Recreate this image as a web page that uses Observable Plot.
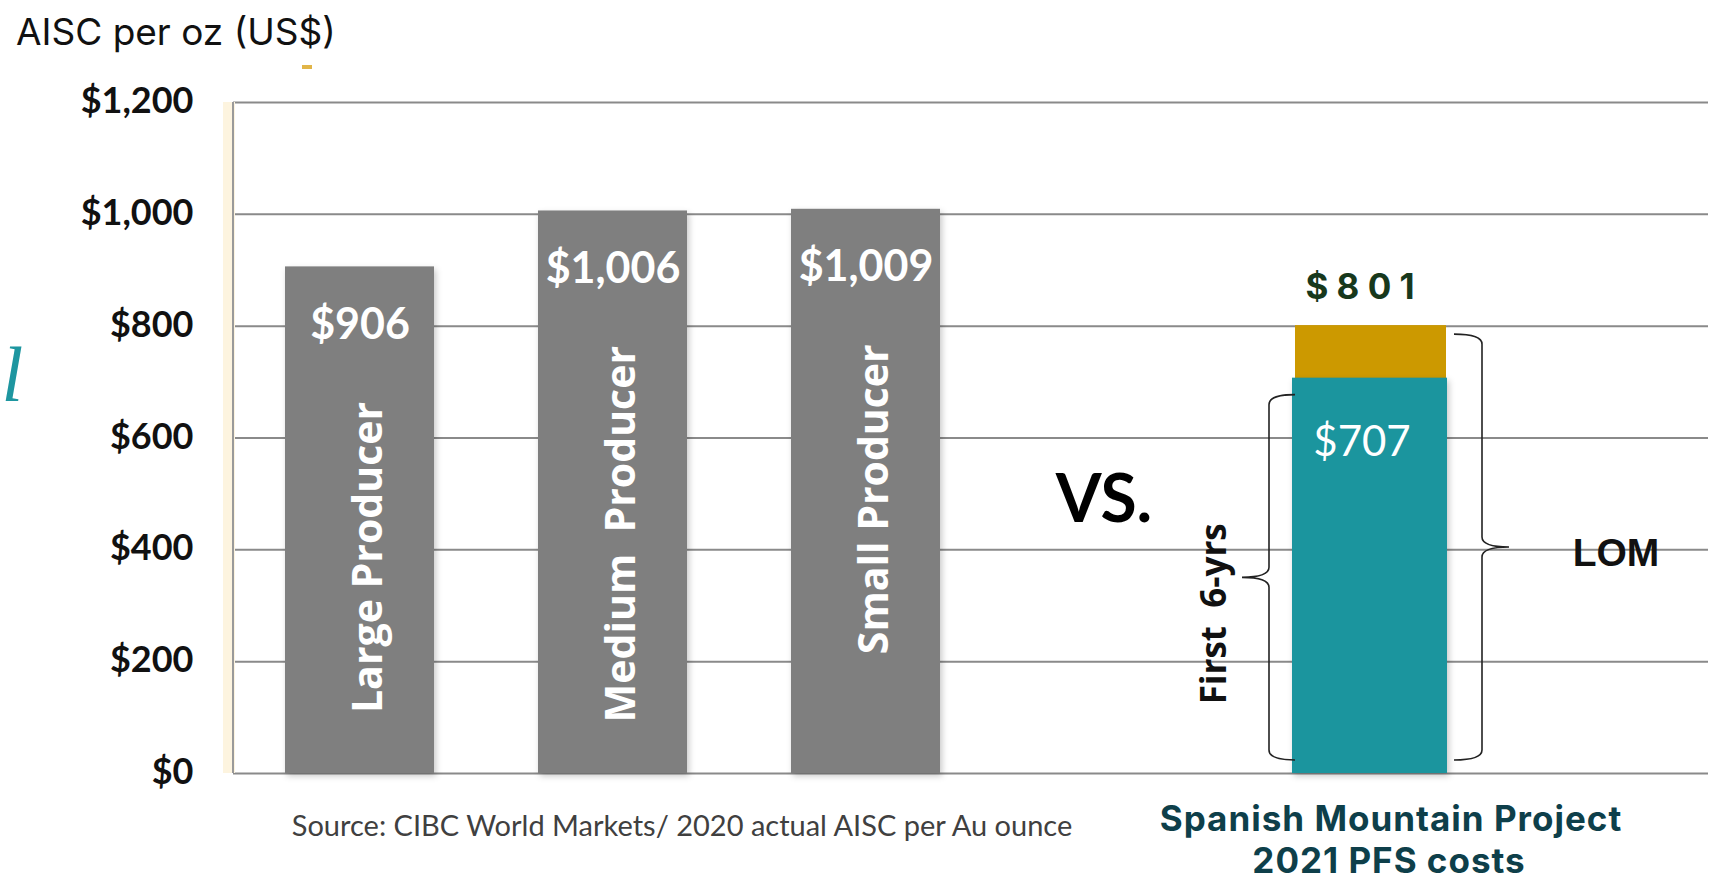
<!DOCTYPE html>
<html><head><meta charset="utf-8">
<script src="https://cdn.jsdelivr.net/npm/d3@7"></script>
<script src="https://cdn.jsdelivr.net/npm/@observablehq/plot@0.6"></script>
<style>
body{margin:0;background:#fff;overflow:hidden;position:relative}
#title{height:70px;box-sizing:border-box;padding:10px 0 0 16px;font:37px Inter, sans-serif;line-height:44px;color:#111}
#dash{position:absolute;left:302px;top:65px;width:10px;height:4px;background:#d9a21a;opacity:0.8}
</style></head><body>
<div id="title">AISC per oz (US$)</div>
<div id="dash"></div>
<div id="chart"></div>
<script>
const categories = ["Large Producer", "Medium  Producer", "Small Producer"];
const aisc = [906, 1006, 1009];
const gapLabel = "VS.";
const projectKey = "Spanish Mountain";
const projectLabel = ["Spanish Mountain Project", "2021 PFS costs"];
const first6Yrs = 707;
const lifeOfMine = 801;
const bracketLabels = ["First  6-yrs", "LOM"];
const yTicks = [0, 200, 400, 600, 800, 1000, 1200];
const sourceNote = "Source: CIBC World Markets/ 2020 actual AISC per Au ounce";

const fmt = d => "$" + d3.format(",")(d);
const producers = categories.map((c, i) => ({cat: c, value: aisc[i]}));
const project = [{cat: projectKey, lo: first6Yrs, hi: lifeOfMine}];
const xDomain = [...categories, gapLabel, projectKey];

function axisLine(index, scales, values, dim) {
  const g = d3.create("svg:g");
  g.append("line").attr("x1", dim.marginLeft - 4).attr("x2", dim.marginLeft - 4)
    .attr("y1", dim.marginTop).attr("y2", dim.height - dim.marginBottom)
    .attr("stroke", "#fdf4df").attr("stroke-width", 12);
  g.append("line").attr("x1", dim.marginLeft).attr("x2", dim.marginLeft)
    .attr("y1", dim.marginTop).attr("y2", dim.height - dim.marginBottom)
    .attr("stroke", "#9a9a9a").attr("stroke-width", 2);
  return g.node();
}

function brace(x, yTop, yBot, dir, h, t, r) {
  const yMid = (yTop + yBot) / 2;
  return `M${x - dir * h},${yTop} Q${x},${yTop} ${x},${yTop + r} L${x},${yMid - r} Q${x},${yMid} ${x + dir * t},${yMid} Q${x},${yMid} ${x},${yMid + r} L${x},${yBot - r} Q${x},${yBot} ${x - dir * h},${yBot}`;
}

function braces(index, scales, values, dim) {
  const x = scales.x, y = scales.y;
  const bw = typeof x.bandwidth === "function" ? x.bandwidth() : 150;
  const left = x(projectKey), right = left + bw;
  const g = d3.create("svg:g").attr("fill", "none").attr("stroke", "#222").attr("stroke-width", 1.6);
  g.append("path").attr("d", brace(left - 28, y(first6Yrs) + 17, y(0) - 13, -1, 26, 27, 10));
  g.append("path").attr("d", brace(right + 36, y(lifeOfMine) + 9, y(0) - 13, 1, 28, 27, 10));
  return g.node();
}

const projFont = {fontSize: 35, fontWeight: "bold", fill: "#0e3f4a", fontFamily: "Inter, sans-serif", lineAnchor: "middle"};
const shadow = "drop-shadow(2px 3px 3px rgba(0,0,0,0.22))";

const chart = Plot.plot({
  width: 1711,
  height: 810,
  marginTop: 32,
  marginBottom: 107,
  marginLeft: 233,
  marginRight: 3,
  style: {fontFamily: "Lato, sans-serif", background: "#fff", overflow: "visible"},
  x: {domain: xDomain, range: [181, 1550], padding: 0.41, axis: null},
  y: {domain: [0, 1200]},
  marks: [
    Plot.gridY(yTicks, {stroke: "#8a8a8a", strokeOpacity: 1, strokeWidth: 2}),
    axisLine,
    Plot.axisY(yTicks, {tickFormat: fmt, tickSize: 0, tickPadding: 40, fontSize: 36, fontWeight: "bold", fill: "#111", label: null, dy: -1}),
    Plot.barY(producers, {x: "cat", y: "value", fill: "#7f7f7f", className: "bars"}),
    Plot.text(producers, {x: "cat", y: "value", text: d => fmt(d.value), dy: 58, fill: "#fff", fontSize: 43, fontWeight: "bold", lineAnchor: "middle"}),
    Plot.text(producers, {x: "cat", y: "value", text: "cat", rotate: -90, textAnchor: "end", lineAnchor: "middle", dx: 9, dy: 135, fill: "#fff", fontSize: 41, fontWeight: "bold", fontFamily: "'Open Sans', sans-serif"}),
    Plot.text([gapLabel], {x: d => d, text: d => d, frameAnchor: "middle", dx: -15, dy: 63, fontSize: 66, fontWeight: "bold", fill: "#000"}),
    Plot.barY(project, {x: "cat", y1: 0, y2: "hi", fill: "#cc9900", insetLeft: -2, insetRight: 0}),
    Plot.barY(project, {x: "cat", y1: 0, y2: "lo", fill: "#1b959e", insetLeft: -5, insetRight: -1, className: "bars"}),
    Plot.text(project, {x: "cat", y: "hi", text: d => "$ " + String(d.hi).split("").join(" "), dx: -12, dy: -38, fill: "#17381c", fontSize: 35, fontWeight: "bold", fontFamily: "Inter, sans-serif", lineAnchor: "middle"}),
    Plot.text(project, {x: "cat", y: "lo", text: d => fmt(d.lo), dx: -10, dy: 64, fill: "#fff", fontSize: 42, lineAnchor: "middle"}),
    braces,
    Plot.text(project, {x: "cat", y: d => d.lo / 2, text: () => bracketLabels[0], rotate: -90, dx: -157, dy: 38, fontSize: 35, fontWeight: "bold", fontFamily: "'Open Sans', sans-serif", fill: "#111", lineAnchor: "middle"}),
    Plot.text(project, {x: "cat", y: d => d.hi / 2, text: () => bracketLabels[1], dx: 244, dy: 4, fontSize: 39, fontWeight: "bold", fill: "#111", fontFamily: "'Liberation Sans', sans-serif", lineAnchor: "middle"}),
    Plot.text([sourceNote], {x: () => categories[1], y: () => 0, text: d => d, dx: 69, dy: 53, fontSize: 29, fill: "#404040", lineAnchor: "middle"}),
    Plot.text([projectLabel[0]], {x: () => projectKey, y: () => 0, text: d => d, dx: 19, dy: 46, ...projFont}),
    Plot.text([projectLabel[1]], {x: () => projectKey, y: () => 0, text: d => d, dx: 17, dy: 88, ...projFont}),
    Plot.text(["l"], {frameAnchor: "left", dx: -232, dy: -62, text: d => d, fontSize: 78, fontStyle: "italic", fontFamily: "'Liberation Serif', serif", fill: "#1e96a0"})
  ]
});
d3.select(chart).selectAll("text").filter(function() { return projectLabel.includes(this.textContent); })
  .style("letter-spacing", "1px");
d3.select(chart).selectAll(".bars").style("filter", shadow);
document.getElementById("chart").appendChild(chart);
</script>
</body></html>
